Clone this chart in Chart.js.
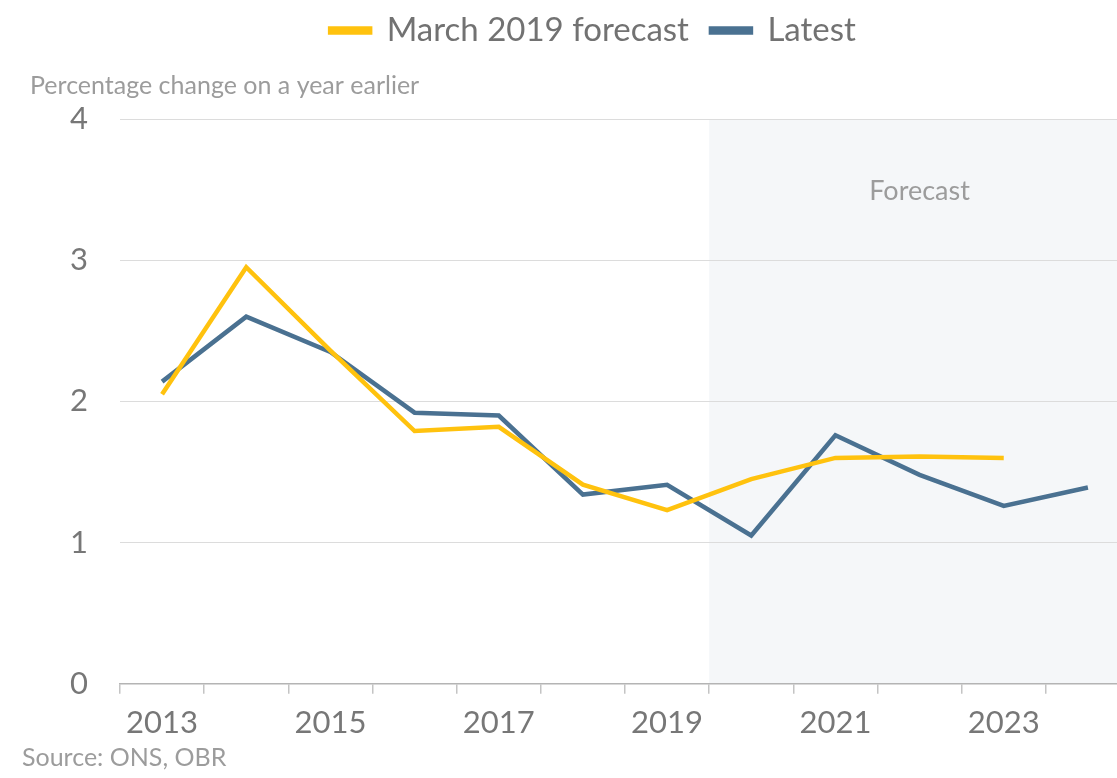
<!DOCTYPE html>
<html>
<head>
<meta charset="utf-8">
<script src="https://cdn.jsdelivr.net/npm/chart.js@4"></script>
<style>
  html, body { margin: 0; padding: 0; background: #fff; overflow: hidden; }
  #wrap { position: relative; width: 1130px; height: 778px; }
</style>
</head>
<body>
<div id="wrap"><canvas id="grafico"></canvas></div>
<script>
const anos = ['2013', '2014', '2015', '2016', '2017', '2018', '2019', '2020', '2021', '2022', '2023', '2024'];
const previsaoMarco2019 = [2.05, 2.95, 2.36, 1.79, 1.82, 1.41, 1.23, 1.45, 1.60, 1.61, 1.60, null];
const ultimos = [2.14, 2.60, 2.35, 1.92, 1.90, 1.34, 1.41, 1.05, 1.76, 1.48, 1.26, 1.39];
const yTicks = [0, 1, 2, 3, 4];
const inicioPrevisao = '2020';

const fonte = 'Lato, "Noto Sans", sans-serif';

// fundo cinza da previsao + textos soltos
const extras = {
  id: 'extras',
  afterInit(chart) {
    // espaco extra abaixo da legenda para o titulo do eixo y
    const fitOriginal = chart.legend.fit;
    chart.legend.fit = function () {
      fitOriginal.call(this);
      this.height += 62;
    };
  },
  afterLayout(chart) {
    // legenda um pouco para a direita, como no original
    chart.legend.left += 28;
    chart.legend.right += 28;
  },
  beforeDraw(chart) {
    const { ctx, chartArea, scales } = chart;
    const x = scales.x;
    const i = anos.indexOf(inicioPrevisao);
    const left = (x.getPixelForValue(i - 1) + x.getPixelForValue(i)) / 2;
    ctx.save();
    ctx.fillStyle = '#f5f7f9';
    ctx.fillRect(left, chartArea.top, chartArea.right - left, chartArea.bottom - chartArea.top);
    ctx.restore();
  },
  afterDraw(chart) {
    const { ctx, scales } = chart;
    ctx.save();
    ctx.fillStyle = '#9c9c9c';
    ctx.textBaseline = 'middle';
    ctx.font = '27px ' + fonte;
    ctx.textAlign = 'center';
    ctx.fillText('Forecast', scales.x.getPixelForValue(9), 191);
    ctx.textAlign = 'left';
    ctx.font = '25px ' + fonte;
    ctx.fillText('Percentage change on a year earlier', 30, 86);
    ctx.fillText('Source: ONS, OBR', 22, 758);
    ctx.restore();
  }
};

new Chart(document.getElementById('grafico'), {
  type: 'line',
  data: {
    labels: anos,
    datasets: [{
      label: 'March 2019 forecast',
      data: previsaoMarco2019,
      borderColor: '#ffc20e',
      backgroundColor: '#ffc20e',
      borderWidth: 4.5,
      pointRadius: 0,
      tension: 0
    }, {
      label: 'Latest',
      data: ultimos,
      borderColor: '#4a7191',
      backgroundColor: '#4a7191',
      borderWidth: 4.5,
      pointRadius: 0,
      tension: 0
    }]
  },
  options: {
    responsive: true,
    maintainAspectRatio: false,
    animation: false,
    layout: { padding: { top: -8, bottom: 25, left: 0, right: 0 } },
    plugins: {
      legend: {
        position: 'top',
        align: 'center',
        labels: {
          boxWidth: 40,
          boxHeight: 4,
          padding: 22,
          color: '#727272',
          font: { family: fonte, size: 33 }
        }
      },
      tooltip: { enabled: false }
    },
    scales: {
      x: {
        offset: true,
        grid: {
          offset: true,
          drawOnChartArea: false,
          drawTicks: true,
          tickLength: 10,
          color: '#c4c4c4',
          lineWidth: 1.5
        },
        border: { display: true, color: '#b4b4b4', width: 1.5 },
        ticks: {
          autoSkip: false,
          maxRotation: 0,
          padding: 11,
          color: '#777',
          font: { family: fonte, size: 31 },
          callback: (v, i) => (i % 2 === 0 ? anos[i] : '')
        }
      },
      y: {
        min: 0,
        max: 4,
        afterBuildTicks: (s) => { s.ticks = yTicks.map(v => ({ value: v })); },
        afterFit: (s) => { s.width = 120; },
        grid: {
          drawTicks: false,
          color: (c) => (c.tick.value === 0 ? 'rgba(0,0,0,0)' : '#dcdcdc'),
          lineWidth: 1
        },
        border: { display: false },
        ticks: {
          padding: 32,
          color: '#777',
          font: { family: fonte, size: 31 }
        }
      }
    }
  },
  plugins: [extras]
});
</script>
</body>
</html>
